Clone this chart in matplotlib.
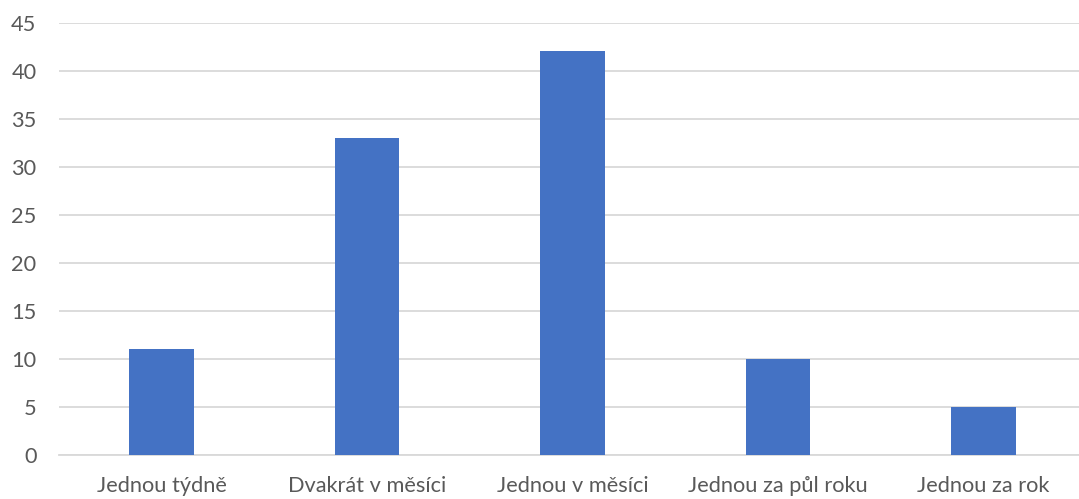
import matplotlib.pyplot as plt
import numpy as np

# survey answers: how often
categories = ["Jednou týdně", "Dvakrát v měsíci", "Jednou v měsíci",
              "Jednou za půl roku", "Jednou za rok"]
counts = [11, 33, 42, 10, 5]
yticks = [0, 5, 10, 15, 20, 25, 30, 35, 40, 45]

plt.rcParams['font.family'] = ['Lato', 'DejaVu Sans']
text_color = "#595959"

fig = plt.figure(figsize=(10.79, 4.99), dpi=100)
ax = fig.add_axes([0.0544, 0.0882, 0.9523, 0.8667])

x = np.arange(len(categories))
ax.bar(x, counts, width=0.315, color="#4472C4", zorder=3)

ax.set_xlim(-0.5, len(categories) - 0.5)
ax.set_ylim(0, 45)
ax.set_yticks(yticks)
ax.set_xticks(x)
ax.set_xticklabels(categories)

ax.grid(axis="y", color="#D9D9D9", linewidth=1.3, zorder=0)
for side in ["top", "right", "left"]:
    ax.spines[side].set_visible(False)
ax.spines["bottom"].set_color("#D9D9D9")
ax.spines["bottom"].set_linewidth(1.3)

ax.tick_params(axis="both", length=0, labelsize=15.7, colors=text_color)
ax.tick_params(axis="y", pad=16)
ax.tick_params(axis="x", pad=15)

fig.savefig("out.png", dpi=100)
